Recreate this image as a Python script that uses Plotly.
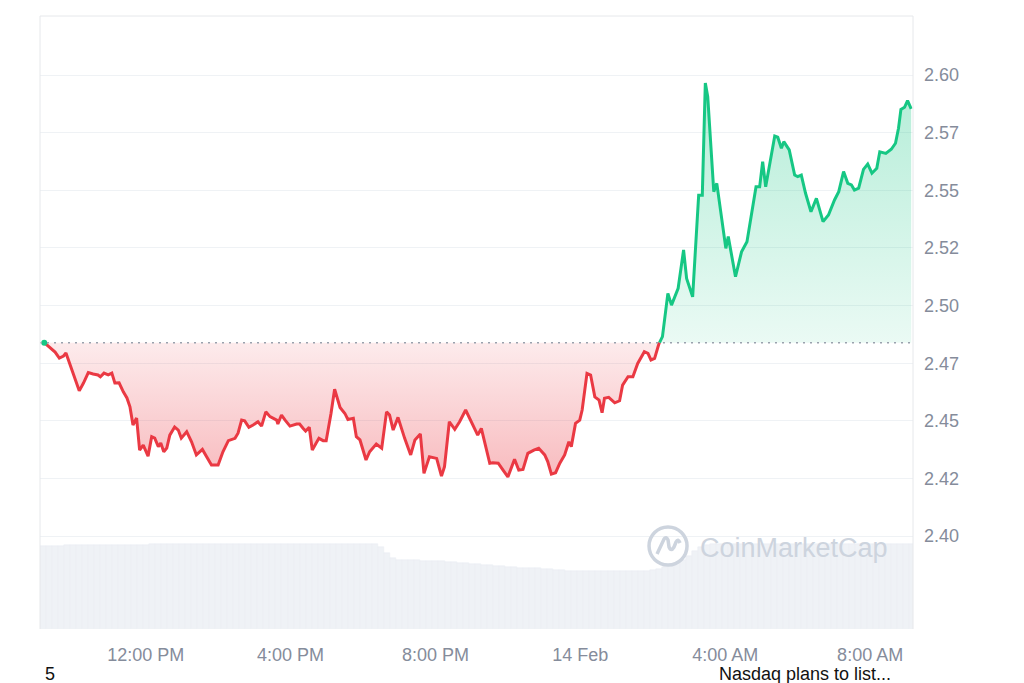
import pandas as pd
import plotly.graph_objects as go

# ---------------- data ----------------
times = [
    "2025-02-13 09:12", "2025-02-13 09:22", "2025-02-13 09:30", "2025-02-13 09:37", "2025-02-13 09:44",
    "2025-02-13 09:48", "2025-02-13 09:55", "2025-02-13 10:03", "2025-02-13 10:10", "2025-02-13 10:17",
    "2025-02-13 10:25", "2025-02-13 10:33", "2025-02-13 10:41", "2025-02-13 10:45", "2025-02-13 10:51",
    "2025-02-13 10:58", "2025-02-13 11:04", "2025-02-13 11:09", "2025-02-13 11:16", "2025-02-13 11:23",
    "2025-02-13 11:29", "2025-02-13 11:34", "2025-02-13 11:39", "2025-02-13 11:45", "2025-02-13 11:50",
    "2025-02-13 11:56", "2025-02-13 12:04", "2025-02-13 12:10", "2025-02-13 12:15", "2025-02-13 12:21",
    "2025-02-13 12:25", "2025-02-13 12:30", "2025-02-13 12:35", "2025-02-13 12:40", "2025-02-13 12:48",
    "2025-02-13 12:54", "2025-02-13 12:59", "2025-02-13 13:08", "2025-02-13 13:16", "2025-02-13 13:24",
    "2025-02-13 13:34", "2025-02-13 13:41", "2025-02-13 13:49", "2025-02-13 14:00", "2025-02-13 14:08",
    "2025-02-13 14:17", "2025-02-13 14:28", "2025-02-13 14:33", "2025-02-13 14:39", "2025-02-13 14:44",
    "2025-02-13 14:51", "2025-02-13 14:58", "2025-02-13 15:06", "2025-02-13 15:12", "2025-02-13 15:19",
    "2025-02-13 15:26", "2025-02-13 15:37", "2025-02-13 15:39", "2025-02-13 15:45", "2025-02-13 15:51",
    "2025-02-13 15:59", "2025-02-13 16:10", "2025-02-13 16:15", "2025-02-13 16:21", "2025-02-13 16:25",
    "2025-02-13 16:31", "2025-02-13 16:36", "2025-02-13 16:42", "2025-02-13 16:47", "2025-02-13 16:54",
    "2025-02-13 16:59", "2025-02-13 17:07", "2025-02-13 17:13", "2025-02-13 17:22", "2025-02-13 17:30",
    "2025-02-13 17:35", "2025-02-13 17:44", "2025-02-13 17:49", "2025-02-13 17:55", "2025-02-13 18:05",
    "2025-02-13 18:11", "2025-02-13 18:22", "2025-02-13 18:31", "2025-02-13 18:39", "2025-02-13 18:44",
    "2025-02-13 18:50", "2025-02-13 18:58", "2025-02-13 19:09", "2025-02-13 19:19", "2025-02-13 19:26",
    "2025-02-13 19:35", "2025-02-13 19:41", "2025-02-13 19:50", "2025-02-13 20:02", "2025-02-13 20:10",
    "2025-02-13 20:15", "2025-02-13 20:23", "2025-02-13 20:32", "2025-02-13 20:40", "2025-02-13 20:50",
    "2025-02-13 21:00", "2025-02-13 21:10", "2025-02-13 21:16", "2025-02-13 21:30", "2025-02-13 21:35",
    "2025-02-13 21:44", "2025-02-13 21:52", "2025-02-13 22:00", "2025-02-13 22:11", "2025-02-13 22:18",
    "2025-02-13 22:25", "2025-02-13 22:33", "2025-02-13 22:43", "2025-02-13 22:51", "2025-02-13 23:01",
    "2025-02-13 23:06", "2025-02-13 23:12", "2025-02-13 23:19", "2025-02-13 23:26", "2025-02-13 23:34",
    "2025-02-13 23:41", "2025-02-13 23:45", "2025-02-13 23:52", "2025-02-13 23:59", "2025-02-14 00:03",
    "2025-02-14 00:11", "2025-02-14 00:17", "2025-02-14 00:24", "2025-02-14 00:31", "2025-02-14 00:36",
    "2025-02-14 00:40", "2025-02-14 00:47", "2025-02-14 00:57", "2025-02-14 01:05", "2025-02-14 01:10",
    "2025-02-14 01:19", "2025-02-14 01:27", "2025-02-14 01:35", "2025-02-14 01:46", "2025-02-14 01:52",
    "2025-02-14 01:57", "2025-02-14 02:03", "2025-02-14 02:10", "2025-02-14 02:16", "2025-02-14 02:25",
    "2025-02-14 02:31", "2025-02-14 02:42", "2025-02-14 02:51", "2025-02-14 02:56", "2025-02-14 03:06",
    "2025-02-14 03:16", "2025-02-14 03:22", "2025-02-14 03:27", "2025-02-14 03:31", "2025-02-14 03:41",
    "2025-02-14 03:46", "2025-02-14 04:01", "2025-02-14 04:05", "2025-02-14 04:17", "2025-02-14 04:27",
    "2025-02-14 04:36", "2025-02-14 04:51", "2025-02-14 04:57", "2025-02-14 05:02", "2025-02-14 05:07",
    "2025-02-14 05:22", "2025-02-14 05:27", "2025-02-14 05:33", "2025-02-14 05:37", "2025-02-14 05:46",
    "2025-02-14 05:55", "2025-02-14 06:00", "2025-02-14 06:06", "2025-02-14 06:13", "2025-02-14 06:22",
    "2025-02-14 06:31", "2025-02-14 06:42", "2025-02-14 06:51", "2025-02-14 07:01", "2025-02-14 07:08",
    "2025-02-14 07:16", "2025-02-14 07:23", "2025-02-14 07:29", "2025-02-14 07:34", "2025-02-14 07:41",
    "2025-02-14 07:49", "2025-02-14 07:56", "2025-02-14 08:03", "2025-02-14 08:11", "2025-02-14 08:16",
    "2025-02-14 08:26", "2025-02-14 08:35", "2025-02-14 08:42", "2025-02-14 08:47", "2025-02-14 08:51",
    "2025-02-14 08:57", "2025-02-14 09:02", "2025-02-14 09:08",
]

prices = [
    2.4839, 2.4816, 2.4798, 2.4772, 2.4781,
    2.4794, 2.4742, 2.4686, 2.4630, 2.4664,
    2.4709, 2.4703, 2.4699, 2.4691, 2.4707,
    2.4699, 2.4707, 2.4664, 2.4665, 2.4626,
    2.4599, 2.4561, 2.4482, 2.4512, 2.4373,
    2.4395, 2.4347, 2.4431, 2.4425, 2.4388,
    2.4404, 2.4366, 2.4382, 2.4438, 2.4473,
    2.4460, 2.4425, 2.4453, 2.4409, 2.4352,
    2.4376, 2.4344, 2.4308, 2.4308, 2.4366,
    2.4414, 2.4424, 2.4446, 2.4503, 2.4500,
    2.4472, 2.4482, 2.4496, 2.4477, 2.4539,
    2.4518, 2.4503, 2.4486, 2.4525, 2.4503,
    2.4477, 2.4486, 2.4486, 2.4467, 2.4456,
    2.4472, 2.4373, 2.4402, 2.4424, 2.4414,
    2.4414, 2.4532, 2.4637, 2.4558, 2.4532,
    2.4506, 2.4511, 2.4431, 2.4417, 2.4330,
    2.4366, 2.4399, 2.4381, 2.4539, 2.4525,
    2.4460, 2.4515, 2.4424, 2.4352, 2.4417,
    2.4443, 2.4272, 2.4344, 2.4337, 2.4260,
    2.4301, 2.4496, 2.4463, 2.4496, 2.4547,
    2.4489, 2.4438, 2.4467, 2.4316, 2.4318,
    2.4316, 2.4286, 2.4257, 2.4333, 2.4286,
    2.4289, 2.4359, 2.4373, 2.4381, 2.4352,
    2.4323, 2.4269, 2.4275, 2.4316, 2.4352,
    2.4409, 2.4388, 2.4489, 2.4503, 2.4547,
    2.4706, 2.4699, 2.4604, 2.4590, 2.4535,
    2.4598, 2.4602, 2.4578, 2.4587, 2.4655,
    2.4691, 2.4691, 2.4749, 2.4800, 2.4793,
    2.4764, 2.4771, 2.4833, 2.4865, 2.5053,
    2.5002, 2.5075, 2.5241, 2.5118, 2.5038,
    2.5479, 2.5479, 2.5965, 2.5906, 2.5494,
    2.5530, 2.5248, 2.5299, 2.5125, 2.5233,
    2.5277, 2.5515, 2.5515, 2.5624, 2.5515,
    2.5735, 2.5730, 2.5682, 2.5711, 2.5675,
    2.5566, 2.5559, 2.5566, 2.5487, 2.5407,
    2.5465, 2.5364, 2.5393, 2.5458, 2.5494,
    2.5581, 2.5530, 2.5523, 2.5501, 2.5509,
    2.5591, 2.5614, 2.5574, 2.5595, 2.5667,
    2.5660, 2.5678, 2.5704, 2.5769, 2.5851,
    2.5860, 2.5889, 2.5853,
]

# 24h volume (arbitrary units, billions) in 10-minute bars from 09:05
volume_start = "2025-02-13 09:10"
volumes = [
    8.30, 8.30, 8.35, 8.35, 8.40, 8.40, 8.45, 8.45, 8.45, 8.45, 8.45, 8.45,
    8.45, 8.45, 8.45, 8.45, 8.45, 8.45, 8.55, 8.55, 8.55, 8.55, 8.55, 8.55,
    8.55, 8.55, 8.55, 8.55, 8.55, 8.55, 8.55, 8.55, 8.55, 8.55, 8.55, 8.55,
    8.55, 8.55, 8.55, 8.55, 8.55, 8.55, 8.55, 8.55, 8.55, 8.55, 8.55, 8.55,
    8.55, 8.55, 8.55, 8.55, 8.55, 8.55, 8.55, 8.50, 8.20, 7.60, 7.10, 6.95,
    6.90, 6.90, 6.90, 6.85, 6.85, 6.80, 6.80, 6.75, 6.70, 6.65, 6.60, 6.55,
    6.50, 6.45, 6.40, 6.35, 6.30, 6.25, 6.20, 6.15, 6.15, 6.10, 6.10, 6.05,
    6.00, 5.95, 5.90, 5.85, 5.85, 5.85, 5.80, 5.80, 5.80, 5.80, 5.80, 5.80,
    5.80, 5.80, 5.80, 5.80, 5.85, 5.90, 6.00, 6.20, 6.40, 6.60, 6.90, 7.30,
    7.80, 8.20, 8.45, 8.55, 8.55, 8.55, 8.55, 8.55, 8.55, 8.55, 8.55, 8.55,
    8.55, 8.55, 8.55, 8.55, 8.55, 8.55, 8.55, 8.55, 8.55, 8.55, 8.55, 8.55,
    8.55, 8.55, 8.55, 8.55, 8.55, 8.55, 8.55, 8.55, 8.55, 8.55, 8.55, 8.55,
    8.55,
]

x_tick_vals = ["2025-02-13 12:00", "2025-02-13 16:00", "2025-02-13 20:00",
               "2025-02-14 00:00", "2025-02-14 04:00", "2025-02-14 08:00"]
x_tick_text = ["12:00 PM", "4:00 PM", "8:00 PM", "14 Feb", "4:00 AM", "8:00 AM"]
y_tick_vals = [2.400, 2.425, 2.450, 2.475, 2.500, 2.525, 2.550, 2.575, 2.600]
y_tick_text = ["2.40", "2.42", "2.45", "2.47", "2.50", "2.52", "2.55", "2.57", "2.60"]

# ---------------- styling ----------------
RED = "#ea3943"
GREEN = "#16c784"
FONT = "Liberation Sans, Arial, sans-serif"
TICK_COLOR = "#858c9b"
GRID = "#eff2f5"
BORDER = "#e6e8eb"
WM = "#cdd4de"

ts = pd.to_datetime(pd.Series(times))
base = prices[0]

# insert baseline crossings so red / green segments meet exactly
T, P = [ts[0]], [prices[0]]
for i in range(1, len(prices)):
    p0, p1 = prices[i - 1], prices[i]
    if (p0 - base) * (p1 - base) < 0:
        f = (base - p0) / (p1 - p0)
        T.append(ts[i - 1] + (ts[i] - ts[i - 1]) * f)
        P.append(base)
    T.append(ts[i])
    P.append(prices[i])

red_line = [p if p <= base else None for p in P]
green_line = [p if p >= base else None for p in P]
red_fill = [min(p, base) for p in P]
green_fill = [max(p, base) for p in P]
base_line = [base] * len(P)

vol_x = pd.date_range(volume_start, periods=len(volumes), freq="10min")

fig = go.Figure()

fig.add_trace(go.Bar(x=vol_x, y=volumes, yaxis="y2",
                     marker=dict(color="#eff2f6", line=dict(width=0.5, color="#e9edf2")),
                     hoverinfo="skip", showlegend=False))

fig.add_trace(go.Scatter(x=T, y=base_line, mode="lines", line=dict(width=0), hoverinfo="skip", showlegend=False))
fig.add_trace(go.Scatter(x=T, y=red_fill, mode="lines", line=dict(width=0), fill="tonexty",
                         fillgradient=dict(type="vertical", start=min(prices), stop=base,
                                           colorscale=[[0, "rgba(234,57,67,0.34)"], [1, "rgba(234,57,67,0.10)"]]),
                         hoverinfo="skip", showlegend=False))
fig.add_trace(go.Scatter(x=T, y=base_line, mode="lines", line=dict(width=0), hoverinfo="skip", showlegend=False))
fig.add_trace(go.Scatter(x=T, y=green_fill, mode="lines", line=dict(width=0), fill="tonexty",
                         fillgradient=dict(type="vertical", start=base, stop=max(prices),
                                           colorscale=[[0, "rgba(22,199,132,0.09)"], [1, "rgba(22,199,132,0.32)"]]),
                         hoverinfo="skip", showlegend=False))

fig.add_trace(go.Scatter(x=T, y=red_line, mode="lines", line=dict(color=RED, width=3),
                         connectgaps=False, showlegend=False))
fig.add_trace(go.Scatter(x=T, y=green_line, mode="lines", line=dict(color=GREEN, width=3),
                         connectgaps=False, showlegend=False))
fig.add_trace(go.Scatter(x=[T[0]], y=[P[0]], mode="markers", marker=dict(color=GREEN, size=6),
                         showlegend=False))

shapes = [
    # dotted opening-price baseline
    dict(type="line", xref="paper", x0=0, x1=1, yref="y", y0=base, y1=base,
         line=dict(color="#9aa1ad", width=1.5, dash="2px,5px"), layer="above"),
    # frame
    dict(type="line", xref="paper", yref="paper", x0=0, x1=1, y0=1, y1=1, line=dict(color=BORDER, width=1)),
    dict(type="line", xref="paper", yref="paper", x0=0, x1=0, y0=0, y1=1, line=dict(color=BORDER, width=1)),
    dict(type="line", xref="paper", yref="paper", x0=1, x1=1, y0=0, y1=1, line=dict(color=BORDER, width=1)),
    # watermark logo
    dict(type="circle", xref="paper", yref="paper", xsizemode="pixel", ysizemode="pixel",
         xanchor=0.7194, yanchor=0.1354, x0=-19, x1=19, y0=-19, y1=19,
         line=dict(color=WM, width=3.5), layer="above"),
    dict(type="path", xref="paper", yref="paper", xsizemode="pixel", ysizemode="pixel",
         xanchor=0.7194, yanchor=0.1354,
         path="M -11,-8 L -4,7 Q -2,10 0,6 L 1,-1 Q 3,-6 6,-1 L 8,4 Q 10,8 12,3",
         line=dict(color=WM, width=3.5), layer="above"),
]

annotations = [
    dict(text="CoinMarketCap", xref="paper", yref="paper", x=0.7537, y=0.132, xanchor="left", yanchor="middle",
         showarrow=False, font=dict(family=FONT, size=27, color=WM)),
    dict(text="5", xref="paper", yref="paper", x=0.003, y=-0.073, xanchor="left", yanchor="middle",
         showarrow=False, font=dict(family=FONT, size=18, color="#111111")),
    dict(text="Nasdaq plans to list...", xref="paper", yref="paper", x=0.7755, y=-0.073, xanchor="left",
         yanchor="middle", showarrow=False, font=dict(family=FONT, size=18, color="#111111")),
]

fig.update_layout(
    width=1024, height=683,
    margin=dict(l=40, r=111, t=16, b=54),
    paper_bgcolor="white", plot_bgcolor="white",
    font=dict(family=FONT, size=18, color=TICK_COLOR),
    showlegend=False,
    bargap=0,
    xaxis=dict(range=["2025-02-13 09:05", "2025-02-14 09:11"], tickvals=x_tick_vals, ticktext=x_tick_text,
               showgrid=False, zeroline=False, showline=False, ticks="", ticklabelstandoff=13,
               tickfont=dict(family=FONT, size=18, color=TICK_COLOR)),
    yaxis=dict(range=[2.3597, 2.6256], side="right", tickvals=y_tick_vals, ticktext=y_tick_text,
               showgrid=True, gridcolor=GRID, gridwidth=1, zeroline=False, showline=False, ticks="",
               ticklabelstandoff=10, tickfont=dict(family=FONT, size=18, color=TICK_COLOR)),
    yaxis2=dict(range=[0, 61.3], overlaying="y", side="left", visible=False, showgrid=False),
    shapes=shapes,
    annotations=annotations,
)

fig.write_html("out.html")
